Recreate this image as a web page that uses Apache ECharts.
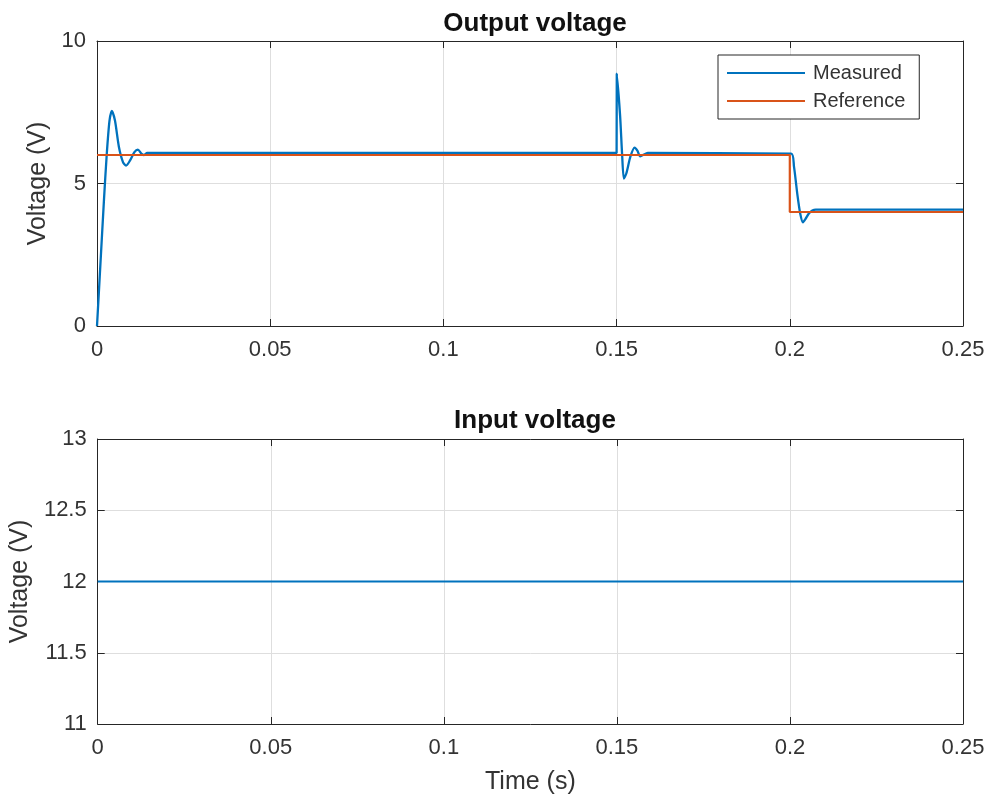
<!DOCTYPE html>
<html>
<head>
<meta charset="utf-8">
<script src="https://cdn.jsdelivr.net/npm/echarts@6/dist/echarts.min.js"></script>
<style>
html,body{margin:0;padding:0;background:#fff;}
#c{width:995px;height:806px;}
</style>
</head>
<body>
<div id="c"></div>
<script>
// ---- data ----
const xTicks = [0, 0.05, 0.1, 0.15, 0.2, 0.25];
const outTicks = [0, 5, 10];
const inTicks = [11, 11.5, 12, 12.5, 13];

const measuredT = [0, 0.0010, 0.0020, 0.0028, 0.0036, 0.0043, 0.0052, 0.0063, 0.0075, 0.0084, 0.0095, 0.0108, 0.0118, 0.0128, 0.0135, 0.0145,
  0.1500, 0.15005, 0.1510, 0.1516, 0.1521, 0.1528, 0.1540, 0.1552, 0.1560, 0.1568, 0.1576, 0.1590,
  0.2004, 0.2012, 0.2022, 0.2030, 0.2038, 0.2045, 0.2055, 0.2065, 0.2075, 0.2250, 0.2500];
const measuredV = [0, 2.2, 4.4, 6.0, 7.2, 7.55, 7.2, 6.3, 5.75, 5.63, 5.8, 6.1, 6.19, 6.05, 6.0, 6.07,
  6.07, 8.85, 7.4, 6.0, 5.17, 5.35, 5.95, 6.26, 6.15, 5.95, 6.0, 6.07,
  6.05, 5.6, 4.6, 3.95, 3.64, 3.75, 3.95, 4.05, 4.08, 4.08, 4.08];

const referenceT = [0, 0.2, 0.2, 0.25];
const referenceV = [6, 6, 4, 4];

const inputT = [0, 0.25];
const inputV = [12, 12];

// ---- chart ----
const zip = (a, b) => a.map((v, i) => [v, b[i]]);
const AX = '#262626';
const TXT = '#333333';
const FONT = '"Liberation Sans", Arial, Helvetica, sans-serif';
const tickFont = 22, labelFont = 25;

function mainX(gi, showName) {
  return {
    type: 'value', gridIndex: gi, min: xTicks[0], max: xTicks[xTicks.length - 1], interval: 0.05,
    position: 'bottom',
    axisLine: { show: true, onZero: false, lineStyle: { color: AX, width: 1 } },
    axisTick: { show: true, inside: true, length: 7, lineStyle: { color: AX } },
    axisLabel: { color: TXT, fontSize: tickFont, fontFamily: FONT, margin: 13 },
    splitLine: { show: true, lineStyle: { color: '#dedede', width: 1 } },
    name: showName ? 'Time (s)' : '', nameLocation: 'middle', nameGap: 46,
    nameTextStyle: { color: TXT, fontSize: labelFont, fontFamily: FONT }
  };
}
function mirrorX(gi) {
  return {
    type: 'value', gridIndex: gi, min: xTicks[0], max: xTicks[xTicks.length - 1], interval: 0.05,
    position: 'top',
    axisLine: { show: true, onZero: false, lineStyle: { color: AX, width: 1 } },
    axisTick: { show: true, inside: true, length: 7, lineStyle: { color: AX } },
    axisLabel: { show: false }, splitLine: { show: false }
  };
}
function mainY(gi, ticks, interval, gap) {
  return {
    type: 'value', gridIndex: gi, min: ticks[0], max: ticks[ticks.length - 1], interval: interval,
    position: 'left',
    axisLine: { show: true, onZero: false, lineStyle: { color: AX, width: 1 } },
    axisTick: { show: true, inside: true, length: 7, lineStyle: { color: AX } },
    axisLabel: { color: TXT, fontSize: tickFont, fontFamily: FONT, margin: 11 },
    splitLine: { show: true, lineStyle: { color: '#dedede', width: 1 } },
    name: 'Voltage (V)', nameLocation: 'middle', nameGap: gap,
    nameTextStyle: { color: TXT, fontSize: labelFont, fontFamily: FONT }
  };
}
function mirrorY(gi, ticks, interval) {
  return {
    type: 'value', gridIndex: gi, min: ticks[0], max: ticks[ticks.length - 1], interval: interval,
    position: 'right',
    axisLine: { show: true, onZero: false, lineStyle: { color: AX, width: 1 } },
    axisTick: { show: true, inside: true, length: 7, lineStyle: { color: AX } },
    axisLabel: { show: false }, splitLine: { show: false }
  };
}

const chart = echarts.init(document.getElementById('c'), null, { renderer: 'canvas' });
chart.setOption({
  backgroundColor: '#fff',
  animation: false,
  title: [
    { text: 'Output voltage', left: 530, top: 6, textAlign: 'center',
      textStyle: { fontSize: 26, fontWeight: 'bold', color: '#111', fontFamily: FONT } },
    { text: 'Input voltage', left: 530, top: 403, textAlign: 'center',
      textStyle: { fontSize: 26, fontWeight: 'bold', color: '#111', fontFamily: FONT } }
  ],
  legend: {
    data: ['Measured', 'Reference'],
    orient: 'vertical', left: 718, top: 55,
    icon: 'rect', itemWidth: 78, itemHeight: 2, itemGap: 8,
    padding: [8, 14, 8, 9],
    backgroundColor: '#fff', borderColor: AX, borderWidth: 1,
    textStyle: { color: TXT, fontSize: 20, fontFamily: FONT, lineHeight: 20, padding: [0, 0, 0, 3] }
  },
  grid: [
    { left: 97, top: 41, width: 866, height: 285 },
    { left: 97, top: 439, width: 866, height: 285 }
  ],
  xAxis: [mainX(0, false), mirrorX(0), mainX(1, true), mirrorX(1)],
  yAxis: [mainY(0, outTicks, 5, 45), mirrorY(0, outTicks, 5), mainY(1, inTicks, 0.5, 63), mirrorY(1, inTicks, 0.5)],
  series: [
    { name: 'Measured', type: 'line', xAxisIndex: 0, yAxisIndex: 0, data: zip(measuredT, measuredV),
      showSymbol: false, symbol: 'none', smooth: 0.25, lineStyle: { color: '#0072BD', width: 2.3 }, itemStyle: { color: '#0072BD' } },
    { name: 'Reference', type: 'line', xAxisIndex: 0, yAxisIndex: 0, data: zip(referenceT, referenceV),
      showSymbol: false, symbol: 'none', lineStyle: { color: '#D95319', width: 2.2 }, itemStyle: { color: '#D95319' } },
    { name: 'Input', type: 'line', xAxisIndex: 2, yAxisIndex: 2, data: zip(inputT, inputV),
      showSymbol: false, symbol: 'none', lineStyle: { color: '#0072BD', width: 2.2 }, itemStyle: { color: '#0072BD' } }
  ]
});
</script>
</body>
</html>
